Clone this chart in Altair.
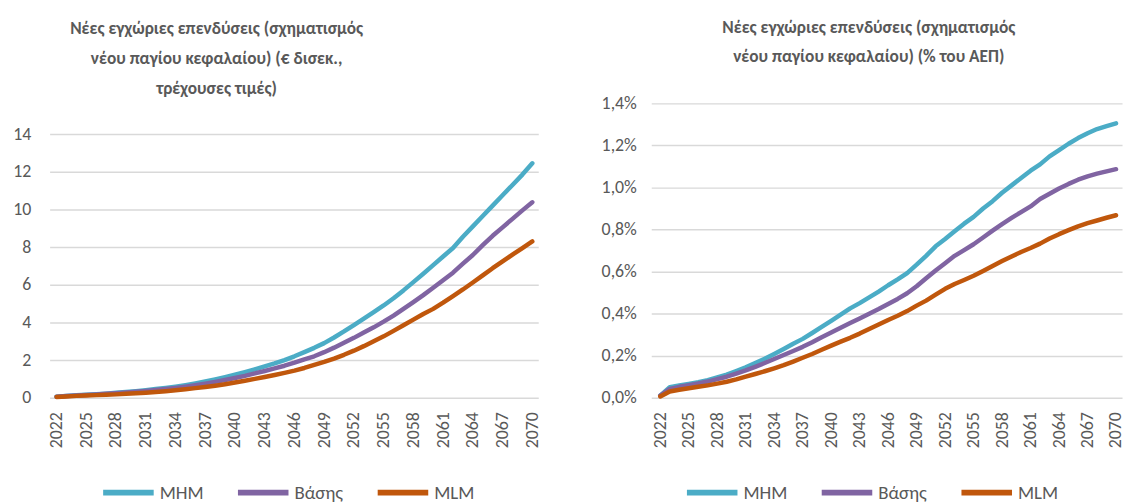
import altair as alt
import pandas as pd

years = list(range(2022, 2071))
series_names = ["MHM", "Βάσης", "MLM"]
series_colors = ["#4BACC6", "#8064A2", "#C0570C"]
x_ticks = list(range(2022, 2071, 3))

# Left panel: € billion, current prices
eur_mhm = [0.05, 0.10, 0.13, 0.16, 0.19, 0.22, 0.26, 0.30, 0.35, 0.40,
           0.46, 0.52, 0.59, 0.67, 0.76, 0.86, 0.97, 1.09, 1.22, 1.36,
           1.51, 1.67, 1.82, 2.00, 2.20, 2.42, 2.65, 2.90, 3.20, 3.52,
           3.86, 4.20, 4.55, 4.90, 5.28, 5.70, 6.14, 6.58, 7.04, 7.50,
           7.95, 8.55, 9.10, 9.65, 10.20, 10.75, 11.30, 11.85, 12.45]
eur_base = [0.05, 0.09, 0.12, 0.15, 0.18, 0.21, 0.24, 0.28, 0.32, 0.36,
            0.41, 0.46, 0.52, 0.59, 0.67, 0.75, 0.84, 0.94, 1.05, 1.16,
            1.29, 1.42, 1.56, 1.70, 1.86, 2.04, 2.20, 2.42, 2.66, 2.92,
            3.18, 3.46, 3.74, 4.04, 4.36, 4.72, 5.08, 5.45, 5.84, 6.24,
            6.64, 7.12, 7.58, 8.10, 8.60, 9.05, 9.50, 9.95, 10.38]
eur_mlm = [0.04, 0.07, 0.10, 0.12, 0.14, 0.16, 0.18, 0.21, 0.24, 0.27,
           0.31, 0.35, 0.40, 0.45, 0.51, 0.57, 0.64, 0.72, 0.81, 0.90,
           1.00, 1.10, 1.21, 1.32, 1.44, 1.58, 1.74, 1.90, 2.08, 2.28,
           2.50, 2.74, 3.00, 3.26, 3.55, 3.85, 4.15, 4.45, 4.72, 5.05,
           5.40, 5.75, 6.12, 6.50, 6.88, 7.24, 7.60, 7.95, 8.30]

# Right panel: % of GDP
gdp_mhm = [0.01, 0.05, 0.058, 0.066, 0.074, 0.084, 0.097, 0.11, 0.127, 0.145,
           0.165, 0.185, 0.208, 0.232, 0.257, 0.28, 0.308, 0.337, 0.366, 0.395,
           0.425, 0.45, 0.477, 0.505, 0.535, 0.563, 0.593, 0.633, 0.675, 0.72,
           0.755, 0.792, 0.828, 0.86, 0.9, 0.935, 0.975, 1.01, 1.045, 1.08,
           1.11, 1.148, 1.178, 1.208, 1.235, 1.258, 1.278, 1.292, 1.305]
gdp_base = [0.01, 0.042, 0.052, 0.06, 0.068, 0.077, 0.089, 0.1, 0.115, 0.13,
            0.147, 0.165, 0.184, 0.203, 0.222, 0.242, 0.264, 0.288, 0.31, 0.333,
            0.355, 0.377, 0.4, 0.422, 0.446, 0.47, 0.497, 0.53, 0.568, 0.605,
            0.64, 0.675, 0.702, 0.73, 0.762, 0.795, 0.826, 0.855, 0.883, 0.91,
            0.945, 0.97, 0.995, 1.017, 1.037, 1.053, 1.066, 1.077, 1.087]
gdp_mlm = [0.006, 0.03, 0.038, 0.045, 0.052, 0.059, 0.067, 0.076, 0.087, 0.1,
           0.113, 0.126, 0.14, 0.155, 0.172, 0.19, 0.208, 0.228, 0.248, 0.267,
           0.285, 0.305, 0.327, 0.348, 0.37, 0.39, 0.412, 0.438, 0.462, 0.49,
           0.518, 0.541, 0.56, 0.58, 0.603, 0.627, 0.65, 0.672, 0.693, 0.712,
           0.733, 0.757, 0.778, 0.797, 0.815, 0.83, 0.843, 0.856, 0.868]

left_title = ["Νέες εγχώριες επενδύσεις (σχηματισμός",
              "νέου παγίου κεφαλαίου) (€ δισεκ.,",
              "τρέχουσες τιμές)"]
right_title = ["Νέες εγχώριες επενδύσεις (σχηματισμός",
               "νέου παγίου κεφαλαίου) (% του ΑΕΠ)"]
left_y_ticks = [0, 2, 4, 6, 8, 10, 12, 14]
right_y_ticks = [0, 0.2, 0.4, 0.6, 0.8, 1.0, 1.2, 1.4]


def long_df(a, b, c):
    rows = []
    for name, vals in zip(series_names, [a, b, c]):
        for y, v in zip(years, vals):
            rows.append({"year": y, "value": v, "series": name})
    return pd.DataFrame(rows)


FONT = "Liberation Sans Narrow, Carlito, Noto Sans"
GREY = "#595959"
H = 297


def panel(df, title, width, xdomain, ymax, yticks, ylabel_expr, y_extent,
          y_pad, title_dx, title_offset, legend_x):
    return alt.Chart(df).mark_line(
        strokeWidth=4.5, strokeCap="round", strokeJoin="round"
    ).encode(
        x=alt.X("year:Q",
                scale=alt.Scale(domain=xdomain, nice=False, zero=False),
                axis=alt.Axis(values=x_ticks, format="d", labelAngle=-90,
                              grid=False, title=None, labelPadding=14,
                              labelFontSize=18)),
        y=alt.Y("value:Q",
                scale=alt.Scale(domain=[0, ymax], nice=False),
                axis=alt.Axis(values=yticks, title=None, labelExpr=ylabel_expr,
                              minExtent=y_extent, maxExtent=y_extent,
                              labelPadding=y_pad, labelFontSize=18)),
        color=alt.Color("series:N",
                        scale=alt.Scale(domain=series_names, range=series_colors),
                        sort=series_names,
                        legend=alt.Legend(orient="none", legendX=legend_x,
                                          legendY=364, direction="horizontal",
                                          title=None, symbolType="stroke",
                                          symbolSize=2601, symbolStrokeWidth=6,
                                          labelFontSize=19, labelColor=GREY,
                                          labelFont=FONT, columnPadding=22,
                                          labelOffset=3, padding=0)),
    ).properties(
        width=width, height=H,
        title=alt.TitleParams(title, dx=title_dx, offset=title_offset,
                              frame="group", anchor="middle"),
    )


left = panel(long_df(eur_mhm, eur_base, eur_mlm), left_title, 493,
             [2021.3, 2070.6], 297 / 19.0, left_y_ticks,
             "format(datum.value, 'd')", 42, 19, -78, 6, 51)
right = panel(long_df(gdp_mhm, gdp_base, gdp_mlm), right_title, 475,
              [2021.05, 2070.63], 1.4, right_y_ticks,
              "replace(format(datum.value, '.1f'), '.', ',') + '%'", 61, 15,
              -18, 29, 33)

chart = alt.hconcat(left, right, spacing=49).resolve_scale(
    color="independent"
).resolve_legend(
    color="independent"
).properties(
    padding={"left": 0, "top": 8, "right": 0, "bottom": 0}
).configure_axis(
    labelFont=FONT, labelColor=GREY, domain=False, ticks=False,
    gridColor="#D9D9D9", gridWidth=1.5,
).configure_title(
    font=FONT, fontSize=17.5, fontWeight="bold", color=GREY, lineHeight=30,
).configure_view(stroke=None)

chart.save("out.html", embed_options={"renderer": "svg", "actions": False})
